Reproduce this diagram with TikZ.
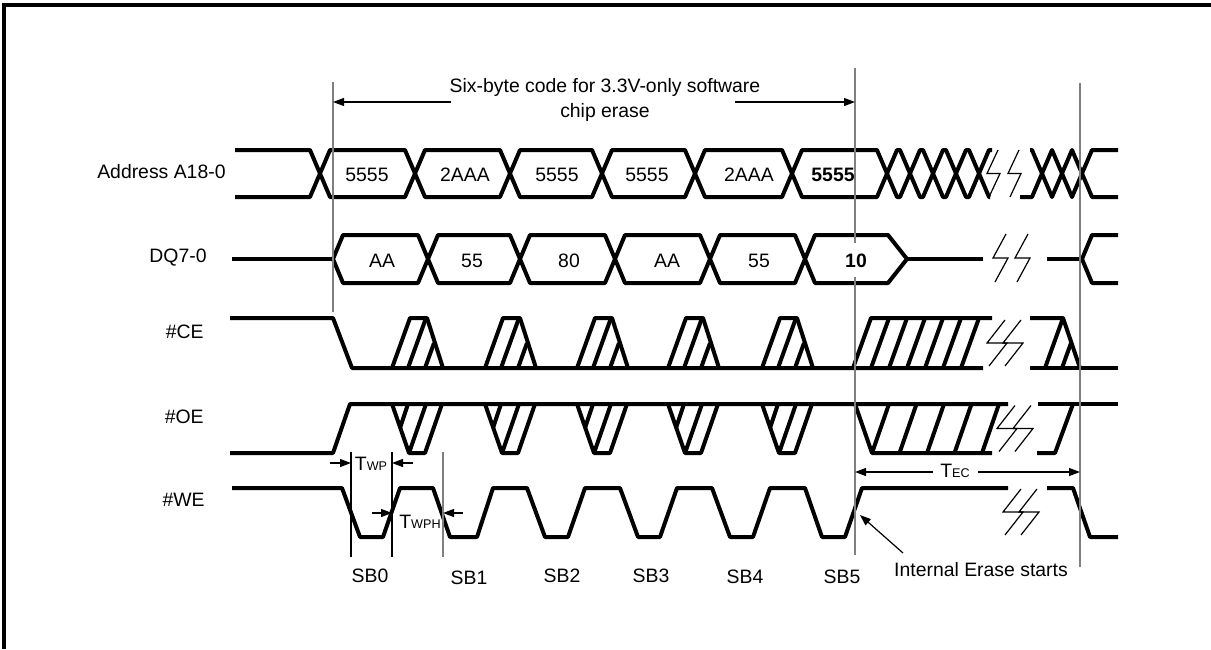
\documentclass[tikz,border=0pt]{standalone}
\usepackage{fontspec}
\setmainfont{Liberation Sans}
\usetikzlibrary{arrows.meta}
% break mark: base x, mid y, half height, slant
\newcommand\brkz[4]{\draw[zig] (#1+#4,#2-#3) -- (#1,#2) -- (#1+#4+2,#2) -- (#1+2,#2+#3);}
\newcommand\subl[1]{{\fontsize{6.3}{7}\selectfont #1}}

\begin{document}
\begin{tikzpicture}[x=0.5pt,y=-0.5pt,
    sig/.style={line width=2pt,line join=round},
    guide/.style={line width=0.75pt,black!50},
    tick/.style={line width=0.6pt},
    dim/.style={line width=0.6pt,-{Triangle[length=5.5pt,width=4pt]}},
    zig/.style={line width=0.6pt},
    every node/.style={font=\fontsize{9.7}{12.3}\selectfont,inner sep=0pt}]
  \useasboundingbox (0,0) rectangle (1211,649);
  \draw[line width=1.6pt] (4,649) -- (4,5) -- (1211,5);

  % signal names
  \node[anchor=east] (nAddr) at (226,172) {Address A18-0};
  \node[anchor=east] (nDQ) at (207,258) {DQ7-0};
  \node[anchor=east] (nCE) at (204,332) {\#CE};
  \node[anchor=east] (nOE) at (204,417) {\#OE};
  \node[anchor=east] (nWE) at (205,500) {\#WE};

  % address bus
  \draw[sig] (235,150) -- (310,150) -- (320,173.5) -- (310,197) -- (235,197);
  \foreach \p/\q in {320/415,415/510,510/602,602/695,695/792,792/887,887/910,910/933,933/956,956/979}
    \draw[sig] (\p,173.5) -- (\p+10,150) -- (\q-10,150) -- (\q,173.5) -- (\q-10,197) -- (\p+10,197) -- cycle;
  \draw[sig] (992,150) -- (989,150) -- (979,173.5) -- (989,197) -- (990,197);
  \brkz{987}{173.5}{23.5}{11}
  \brkz{1008}{173.5}{23.5}{11}
  \draw[sig] (1030,150) -- (1032,150) -- (1042,173.5) -- (1032,197) -- (1020,197);
  \foreach \p/\q in {1042/1062,1062/1082}
    \draw[sig] (\p,173.5) -- (\p+10,150) -- (\q-10,150) -- (\q,173.5) -- (\q-10,197) -- (\p+10,197) -- cycle;
  \draw[sig] (1118,150) -- (1092,150) -- (1082,173.5) -- (1092,197) -- (1118,197);
  \node (a0) at (367,175) {5555};
  \node (a1) at (465,175) {2AAA};
  \node (a2) at (557,175) {5555};
  \node (a3) at (647,175) {5555};
  \node (a4) at (749,175) {2AAA};
  \node (a5) at (833,175) {\textbf{5555}};

  % data bus
  \draw[sig] (232,259) -- (333,259);
  \foreach \p/\q in {333/428,428/520,520/615,615/710,710/805}
    \draw[sig] (\p,259) -- (\p+10,235) -- (\q-10,235) -- (\q,259) -- (\q-10,283) -- (\p+10,283) -- cycle;
  \draw[sig] (805,259) -- (815,235) -- (888,235) -- (907,259) -- (888,283) -- (815,283) -- cycle;
  \draw[sig] (907,259) -- (983,259);
  \brkz{993}{258}{24}{13}
  \brkz{1015}{258}{24}{13}
  \draw[sig] (1047,259) -- (1082,259);
  \draw[sig] (1118,235) -- (1092,235) -- (1082,259) -- (1092,283) -- (1118,283);
  \node (d0) at (382,261) {AA};
  \node (d1) at (472,261) {55};
  \node (d2) at (569,261) {80};
  \node (d3) at (667,261) {AA};
  \node (d4) at (759,261) {55};
  \node (d5) at (856,261) {\textbf{10}};

  % #CE
  \draw[sig] (230,318) -- (333,318) -- (352,368) -- (983,368);
  \foreach \x in {392,485,577,668,762} {
    \draw[sig] (\x,368) -- (\x+18,318) -- (\x+35,318) -- (\x+51,368);
    \draw[sig] (\x+16,368) -- (\x+34,318) (\x+33,368) -- (\x+42,343);
  }
  \draw[sig] (853,368) -- (871,318) -- (992,318);
  \foreach \k in {1,...,6}
    \draw[sig] (853+18*\k,368) -- (871+18*\k,318);
  \brkz{987}{343}{23}{18}
  \brkz{1003}{343}{23}{18}
  \draw[sig] (1030,318) -- (1063,318) -- (1080,368);
  \draw[sig] (1030,368) -- (1118,368);
  \draw[sig] (1045,368) -- (1063,318) (1062,368) -- (1071,343);

  % #OE
  \draw[sig] (230,453) -- (333,453) -- (350,404) -- (1008,404);
  \foreach \x in {392,485,577,668,762} {
    \draw[sig] (\x,404) -- (\x+17,453) -- (\x+33,453) -- (\x+50,404);
    \draw[sig] (\x+17,453) -- (\x+34,404) (\x+8,428) -- (\x+16,404);
  }
  \draw[sig] (855,404) -- (872,453) -- (992,453);
  \foreach \k in {0,...,4}
    \draw[sig] (872+27.5*\k,453) -- (889+27.5*\k,404);
  \brkz{997}{428.5}{23}{18}
  \brkz{1013}{428.5}{23}{18}
  \draw[sig] (1038,404) -- (1118,404);
  \draw[sig] (1037,453) -- (1055,453) -- (1073,404);

  % #WE
  \draw[sig] (232,488) -- (342,488) -- (360,537) -- (383,537) -- (400,488) -- (433,488)
    -- (450,537) -- (477,537) -- (493,488) -- (527,488) -- (545,537) -- (568,537)
    -- (585,488) -- (620,488) -- (638,537) -- (660,537) -- (677,488) -- (712,488)
    -- (730,537) -- (753,537) -- (770,488) -- (805,488) -- (822,537) -- (845,537)
    -- (862,488) -- (1008,488);
  \brkz{1003}{512}{23}{18}
  \brkz{1019}{512}{23}{18}
  \draw[sig] (1047,488) -- (1073,488) -- (1090,537) -- (1118,537);

  % reference lines
  \draw[guide] (333,82) -- (333,312);
  \draw[guide] (855,68) -- (855,243) (855,277) -- (855,555);
  \draw[guide] (1080,83) -- (1080,567);
  \draw[tick] (351,452) -- (351,557);
  \draw[tick] (392,452) -- (392,557);
  \draw[guide] (443,452) -- (443,557);

  % six-byte code span
  \node[align=center] (code) at (605,100) {Six-byte code for 3.3V-only software\\chip erase};
  \draw[dim] (451,102) -- (333,102);
  \draw[dim] (735,102) -- (855,102);

  % timing marks
  \node (twp) at (371,464) {T\subl{WP}};
  \draw[dim] (330,463) -- (351,463);
  \draw[dim] (413,463) -- (392,463);
  \node (twph) at (420,522) {T\subl{WPH}};
  \draw[dim] (372,513) -- (392,513);
  \draw[dim] (463,513) -- (443,513);
  \node (tec) at (955,471) {T\subl{EC}};
  \draw[dim] (933,472) -- (855,472);
  \draw[dim] (978,472) -- (1080,472);

  % byte labels
  \node (sb0) at (370,576) {SB0};
  \node (sb1) at (469,578) {SB1};
  \node (sb2) at (562,576) {SB2};
  \node (sb3) at (651,576) {SB3};
  \node (sb4) at (745,577) {SB4};
  \node (sb5) at (842,577) {SB5};
  \node (ies) at (981,570) {Internal Erase starts};
  \coordinate (iesTip) at (860,515);
  \draw[dim] (903,553) -- (iesTip);
\end{tikzpicture}
\end{document}
